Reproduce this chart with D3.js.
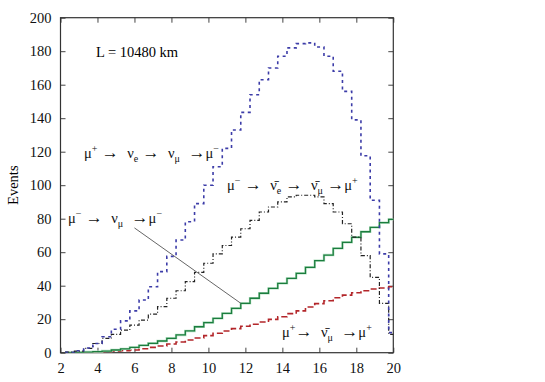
<!DOCTYPE html>
<html>
<head>
<meta charset="utf-8">
<script src="https://cdn.jsdelivr.net/npm/d3@7"></script>
<style>
  body { margin: 0; background: #fff; }
</style>
</head>
<body>
<script>
var serif = 'Liberation Serif'

// bin left edges (GeV), 0.5 wide
var binStart = d3.range(36).map(function(i) { return 2.25 + 0.5 * i })

// mu+ -> nu_e -> nu_mu -> mu-  (blue dotted)
var blueVals = [0.3, 1.2, 2.8, 5.5, 9.5, 14, 19, 25, 31.5, 39.4, 48.4, 57.5,
  67.3, 78.2, 89, 100, 111, 122, 133, 143.5, 154, 163, 170, 177,
  182, 184.5, 185, 182.5, 177, 168, 156, 139, 117.6, 91, 59, 12]

// mu- -> nubar_e -> nubar_mu -> mu+  (black dash-dot)
var blackVals = [0.3, 1, 2.6, 5.5, 8.5, 11, 13.5, 16.5, 19.5, 23, 27.5, 32.5,
  37, 42.4, 48, 53.4, 59, 64, 69, 74, 79, 84, 87, 90,
  93, 94, 94, 93, 89, 84, 77, 69, 58, 45, 29.5, 11]

// mu- -> nu_mu -> mu-  (green solid)
var greenVals = [0.1, 0.2, 0.4, 0.6, 1, 1.6, 2.3, 3.2, 4.4, 5.6, 7, 8.6,
  10.6, 13, 15.5, 18, 20.5, 23.5, 26.5, 29.5, 32.5, 35.5, 38.4, 41.4,
  44.4, 47.4, 51, 55, 58.3, 62.3, 65.9, 68.9, 72.2, 74.8, 77.6, 79.6]

// mu+ -> nubar_mu -> mu+  (red dashed)
var redVals = [0.1, 0.2, 0.3, 0.4, 0.6, 0.9, 1.2, 1.6, 2.4, 3.2, 4, 5.2,
  6.4, 7.6, 8.8, 10.2, 11.6, 13, 14.4, 15.8, 17, 18.3, 19.9, 21.5,
  23.3, 25, 27.3, 29.3, 31, 32.8, 34.4, 35.8, 37, 38, 38.6, 39.4]

var xTicks = [2, 4, 6, 8, 10, 12, 14, 16, 18, 20]
var yTicks = [0, 20, 40, 60, 80, 100, 120, 140, 160, 180, 200]

var svg = d3.select('body').append('svg')
  .attr('width', 545)
  .attr('height', 382)
  .attr('font-family', serif)

var Xscale = d3.scaleLinear().domain([2, 20]).range([60.5, 393.3])
var Yscale = d3.scaleLinear().domain([0, 200]).range([352.7, 17.7])

svg.append('clipPath').attr('id', 'plotclip')
  .append('rect')
  .attr('x', Xscale(2)).attr('y', Yscale(200))
  .attr('width', Xscale(20) - Xscale(2))
  .attr('height', Yscale(0) - Yscale(200))

// axes, ticks pointing inward
var axisStyle = function(g) {
  g.attr('font-family', serif).attr('font-size', 14.5)
  g.select('.domain').remove()
  g.selectAll('line').attr('stroke', '#444')
  g.selectAll('text').attr('fill', '#111')
}

svg.append('g')
  .attr('transform', 'translate(0,' + Yscale(0) + ')')
  .call(d3.axisBottom(Xscale).tickValues(xTicks).tickSize(-5).tickPadding(10).tickFormat(d3.format('d')))
  .call(axisStyle)

svg.append('g')
  .attr('transform', 'translate(0,' + Yscale(200) + ')')
  .call(d3.axisTop(Xscale).tickValues(xTicks).tickSize(-5).tickFormat(''))
  .call(axisStyle)

svg.append('g')
  .attr('transform', 'translate(' + Xscale(2) + ',0)')
  .call(d3.axisLeft(Yscale).tickValues(yTicks).tickSize(-5).tickPadding(9).tickFormat(d3.format('d')))
  .call(axisStyle)

svg.append('g')
  .attr('transform', 'translate(' + Xscale(20) + ',0)')
  .call(d3.axisRight(Yscale).tickValues(yTicks).tickSize(-5).tickFormat(''))
  .call(axisStyle)

// frame
svg.append('rect')
  .attr('x', Xscale(2)).attr('y', Yscale(200))
  .attr('width', Xscale(20) - Xscale(2))
  .attr('height', Yscale(0) - Yscale(200))
  .attr('fill', 'none')
  .attr('stroke', '#333')
  .attr('stroke-width', 1.2)

svg.append('text')
  .attr('transform', 'translate(18,' + Yscale(100) + ') rotate(-90)')
  .attr('text-anchor', 'middle')
  .attr('font-size', 14.5)
  .text('Events')

// step histograms
var stepLine = d3.line()
  .x(d => Xscale(d[0]))
  .y(d => Yscale(d[1]))
  .curve(d3.curveStepAfter)

function steps(vals) {
  var pts = binStart.map((b, i) => [b, vals[i]])
  pts.push([binStart[binStart.length - 1] + 0.5, vals[vals.length - 1]])
  return pts
}

var plot = svg.append('g').attr('clip-path', 'url(#plotclip)')

plot.append('path').datum(steps(redVals))
  .attr('d', stepLine).attr('fill', 'none')
  .attr('stroke', '#b3262a').attr('stroke-width', 1.6)
  .attr('stroke-dasharray', '6,3')

plot.append('path').datum(steps(greenVals))
  .attr('d', stepLine).attr('fill', 'none')
  .attr('stroke', '#b4e0c2').attr('stroke-width', 2.4)

plot.append('path').datum(steps(greenVals))
  .attr('d', stepLine).attr('fill', 'none')
  .attr('stroke', '#1b7d3e').attr('stroke-width', 1.3)

plot.append('path').datum(steps(blackVals))
  .attr('d', stepLine).attr('fill', 'none')
  .attr('stroke', '#222').attr('stroke-width', 1.2)
  .attr('stroke-dasharray', '4,2,1,2')

plot.append('path').datum(steps(blueVals))
  .attr('d', stepLine).attr('fill', 'none')
  .attr('stroke', '#3c3ca8').attr('stroke-width', 1.6)
  .attr('stroke-dasharray', '3,3.5')

// pointer line for mu- -> nu_mu -> mu-
svg.append('line')
  .attr('x1', Xscale(6.0)).attr('y1', Yscale(74.5))
  .attr('x2', Xscale(11.75)).attr('y2', Yscale(29.5))
  .attr('stroke', '#666').attr('stroke-width', 1)

// labels
function label(x, y, parts) {
  var t = svg.append('text').attr('x', x).attr('y', y)
    .attr('font-size', 14.5).attr('fill', '#111')
  parts.forEach(function(p) {
    var s = t.append('tspan').text(p[0])
    if (p[1] === 'sup') s.attr('font-size', 10).attr('dy', -6)
    if (p[1] === 'sub') s.attr('font-size', 10).attr('dy', 4)
    if (p[2]) s.attr('dy', p[2])
    if (p[1] === 'arrow') s.attr('font-size', 17).attr('dy', p[2] || 0)
  })
  return t
}

svg.append('text').attr('x', 96).attr('y', 57).attr('font-size', 14.5)
  .text('L = 10480 km')

label(84, 158, [['μ'], ['+', 'sup'], ['\u00a0→\u00a0\u00a0', 'arrow', 6], ['ν'], ['e', 'sub'], ['\u00a0→\u00a0\u00a0', 'arrow', -4], ['ν'], ['μ', 'sub'], ['\u00a0\u00a0→', 'arrow', -4], ['μ'], ['−', 'sup']])
label(227, 190, [['μ'], ['−', 'sup'], ['\u00a0→\u00a0\u00a0', 'arrow', 6], ['ν̄'], ['e', 'sub'], ['\u00a0→\u00a0\u00a0', 'arrow', -4], ['ν̄'], ['μ', 'sub'], ['\u00a0→', 'arrow', -4], ['μ'], ['+', 'sup']])
label(68, 223, [['μ'], ['−', 'sup'], ['\u00a0→\u00a0\u00a0', 'arrow', 6], ['ν'], ['μ', 'sub'], ['\u00a0\u00a0→', 'arrow', -4], ['μ'], ['−', 'sup']])
label(282, 337, [['μ'], ['+', 'sup'], ['→\u00a0\u00a0', 'arrow', 6], ['ν̄'], ['μ', 'sub'], ['\u00a0\u00a0→', 'arrow', -4], ['μ'], ['+', 'sup']])
</script>
</body>
</html>
